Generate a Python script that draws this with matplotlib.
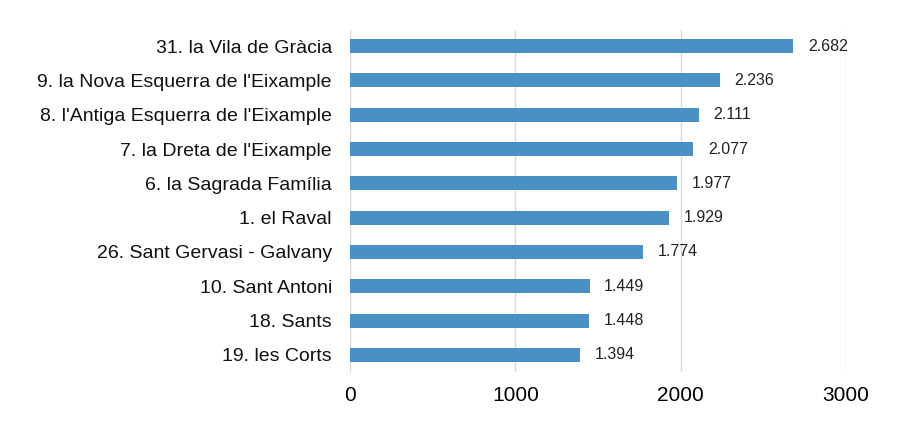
import matplotlib.pyplot as plt
import numpy as np

barris = ["31. la Vila de Gràcia", "9. la Nova Esquerra de l'Eixample",
          "8. l'Antiga Esquerra de l'Eixample", "7. la Dreta de l'Eixample",
          "6. la Sagrada Família", "1. el Raval", "26. Sant Gervasi - Galvany",
          "10. Sant Antoni", "18. Sants", "19. les Corts"]
valors = [2682, 2236, 2111, 2077, 1977, 1929, 1774, 1449, 1448, 1394]
etiquetes = ["2.682", "2.236", "2.111", "2.077", "1.977", "1.929", "1.774",
             "1.449", "1.448", "1.394"]

plt.rcParams['font.family'] = ['Liberation Sans', 'DejaVu Sans']

fig = plt.figure(figsize=(9.16, 4.23), dpi=100)
ax = fig.add_axes([350/916, 1 - 372/423, (846 - 350)/916, (372 - 30)/423])

y = np.arange(len(barris))
ax.barh(y, valors, height=0.41, color="#4a90c4", zorder=3)
for yi, v, t in zip(y, valors, etiquetes):
    ax.text(v + 88, yi, t, va="center", ha="left", fontsize=11.5, color="#222222")

ax.set_xlim(0, 3000)
ax.set_ylim(9.5, -0.47)
ax.set_yticks(y)
ax.set_yticklabels(barris, fontsize=14, color="#111111")
ax.set_xticks([0, 1000, 2000, 3000])
ax.tick_params(axis="x", labelsize=15, length=0, pad=10)
ax.tick_params(axis="y", length=0, pad=13)
ax.grid(axis="x", color="#d9d9d9", linewidth=1, zorder=0)
for s in ax.spines.values():
    s.set_visible(False)

fig.savefig("out.png", dpi=100)
